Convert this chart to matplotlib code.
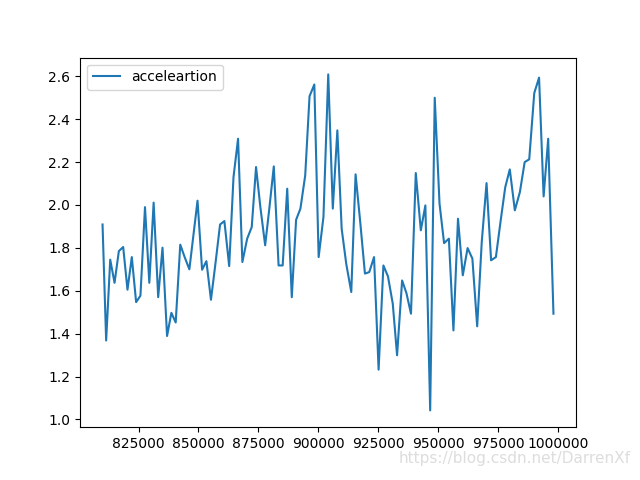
# Beschleunigung ueber die Zeit plotten
import matplotlib
matplotlib.use("Agg")
import matplotlib.pyplot as plt

# Daten
X = [
    810000, 811500, 813200, 815000, 816800, 818600, 820400, 822200, 824000, 825800,
    827700, 829500, 831300, 833200, 835000, 836900, 838700, 840500, 842400, 844300,
    846200, 847900, 849600, 851500, 853300, 855200, 857000, 859000, 860800, 862800,
    864600, 866500, 868300, 870300, 872200, 874000, 875800, 877800, 879600, 881400,
    883400, 885100, 887000, 888900, 890700, 892500, 894500, 896300, 898300, 900100,
    902100, 904100, 906000, 907900, 909700, 911600, 913700, 915500, 917500, 919400,
    921200, 923200, 925100, 927100, 929000, 931000, 932800, 934900, 936700, 938600,
    940600, 942700, 944600, 946600, 948500, 950500, 952400, 954400, 956300, 958200,
    960200, 962200, 964200, 966200, 968100, 970100, 972000, 974000, 976000, 977900,
    979800, 981900, 984000, 986000, 987900, 990000, 992000, 993900, 995800, 998000,
]
acceleration = [
    1.909, 1.368, 1.745, 1.637, 1.785, 1.804, 1.605, 1.757, 1.547, 1.577,
    1.990, 1.637, 2.011, 1.570, 1.801, 1.389, 1.497, 1.452, 1.815, 1.755,
    1.700, 1.860, 2.020, 1.698, 1.738, 1.558, 1.720, 1.909, 1.925, 1.715,
    2.130, 2.309, 1.734, 1.843, 1.897, 2.177, 1.990, 1.812, 1.990, 2.180,
    1.718, 1.718, 2.076, 1.570, 1.931, 1.983, 2.138, 2.507, 2.562, 1.757,
    1.944, 2.609, 1.983, 2.348, 1.889, 1.726, 1.594, 2.143, 1.913, 1.680,
    1.687, 1.757, 1.232, 1.718, 1.667, 1.540, 1.299, 1.648, 1.589, 1.493,
    2.149, 1.882, 1.998, 1.042, 2.500, 2.006, 1.822, 1.843, 1.415, 1.936,
    1.672, 1.799, 1.750, 1.434, 1.827, 2.102, 1.742, 1.757, 1.928, 2.083,
    2.166, 1.975, 2.060, 2.200, 2.213, 2.522, 2.594, 2.040, 2.309, 1.493,
]

fig, ax = plt.subplots(figsize=(6.4, 4.8), dpi=100)
ax.plot(X, acceleration, label="acceleartion")
ax.legend(loc="upper left")
ax.ticklabel_format(axis="x", style="plain", useOffset=False)

# Wasserzeichen
fig.text(0.985, 0.03, "https://blog.csdn.net/DarrenXf", ha="right", va="bottom",
         color="#dddddd", fontsize=11)

fig.savefig("out.png")
